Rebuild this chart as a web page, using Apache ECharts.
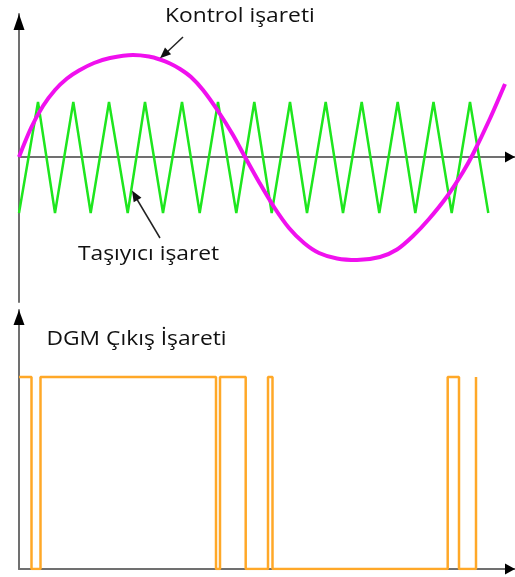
<!DOCTYPE html>
<html><head><meta charset="utf-8">
<script src="https://cdn.jsdelivr.net/npm/echarts@6/dist/echarts.min.js"></script>
<style>html,body{margin:0;padding:0;background:#fff}#c{width:515px;height:577px}</style>
</head><body><div id="c"></div>
<script>
// Control (sine-like) signal (x: time units, y: amplitude units)
const controlX = [0, 12, 24, 36, 48, 60, 75, 91, 114, 130, 141, 151, 161, 172, 184, 199, 214, 226, 240, 255, 270, 285, 300, 318, 338, 361, 378, 394, 410, 428, 444, 454, 471, 486];
const controlY = [0, 29, 51, 67, 78.5, 86.5, 94, 99, 102, 100.5, 97.5, 93.5, 88, 80, 67, 46, 22, 0, -25, -50, -71, -86, -96, -101.5, -103, -100, -92.5, -79, -62, -39.5, -15, 3, 38.5, 73];
// Carrier (triangle) signal vertices
const carrierX = [0, 19, 36, 54.3, 71.7, 90, 108.7, 126, 144, 163, 180.7, 199, 217.3, 235.3, 252.7, 271, 288, 306.7, 324, 342.7, 360.3, 378.7, 396.3, 414.5, 432.7, 451, 469.3];
const carrierY = [-56, 55, -56, 55, -56, 55, -56, 55, -56, 55, -56, 55, -56, 55, -56, 55, -56, 55, -56, 55, -56, 55, -56, 55, -56, 55, -56];
// PWM output (0 = low, 1 = high)
const pwmX = [0, 12.5, 12.5, 21.5, 21.5, 197, 197, 201, 201, 226.7, 226.7, 249, 249, 253.5, 253.5, 428.7, 428.7, 440, 440, 457, 457];
const pwmY = [1, 1, 0, 0, 1, 1, 0, 0, 1, 1, 0, 0, 1, 1, 0, 0, 1, 1, 0, 0, 1];
// Texts
const controlLabel = 'Kontrol işareti';
const carrierLabel = 'Taşıyıcı işaret';
const pwmLabel = 'DGM Çıkış İşareti';

const zip = (xs, ys) => xs.map((x, i) => [x, ys[i]]);
const FONT = '"Open Sans", "Noto Sans", sans-serif';
const axisGray = '#707070';

const chart = echarts.init(document.getElementById('c'), null, {renderer: 'canvas'});

function arrowHead(x1, y1, x2, y2, len, half) {
  const dx = x2 - x1, dy = y2 - y1, d = Math.hypot(dx, dy);
  const ux = dx / d, uy = dy / d;
  const bx = x2 - ux * len, by = y2 - uy * len;
  return [[x2, y2], [bx - uy * half, by + ux * half], [bx + uy * half, by - ux * half]];
}

const baseAxis = {
  axisTick: {show: false}, axisLabel: {show: false}, splitLine: {show: false}
};

function label(text, x, y) {
  return {type: 'text', x: x, y: y, scaleX: 1.14, scaleY: 1,
    style: {text: text, font: '20px ' + FONT, fill: '#111', verticalAlign: 'middle', align: 'left'}, z: 10};
}

chart.setOption({
  animation: false,
  backgroundColor: '#fff',
  grid: [
    {left: 19, right: 0, top: 14, height: 288, containLabel: false},
    {left: 19, right: 0, top: 310, height: 259, containLabel: false}
  ],
  xAxis: [
    Object.assign({type: 'value', gridIndex: 0, min: 0, max: 496,
      axisLine: {show: true, onZero: true, lineStyle: {color: axisGray, width: 2}}}, baseAxis),
    Object.assign({type: 'value', gridIndex: 1, min: 0, max: 496,
      axisLine: {show: true, onZero: true, lineStyle: {color: axisGray, width: 2}}}, baseAxis)
  ],
  yAxis: [
    Object.assign({type: 'value', gridIndex: 0, min: -145, max: 143,
      axisLine: {show: true, onZero: false, lineStyle: {color: axisGray, width: 2}}}, baseAxis),
    Object.assign({type: 'value', gridIndex: 1, min: 0, max: 1.349,
      axisLine: {show: true, onZero: false, lineStyle: {color: axisGray, width: 2}}}, baseAxis)
  ],
  series: [
    {type: 'line', xAxisIndex: 0, yAxisIndex: 0, data: zip(carrierX, carrierY), showSymbol: false, symbol: 'none',
      lineStyle: {color: '#1ee61e', width: 2.5}, z: 3},
    {type: 'line', xAxisIndex: 0, yAxisIndex: 0, data: zip(controlX, controlY), showSymbol: false, symbol: 'none',
      smooth: 0.3, lineStyle: {color: '#f010ee', width: 4}, z: 4},
    {type: 'line', xAxisIndex: 1, yAxisIndex: 1, data: zip(pwmX, pwmY), showSymbol: false, symbol: 'none',
      lineStyle: {color: '#ffa828', width: 2.5}, z: 3}
  ],
  graphic: [
    // axis arrowheads
    {type: 'polygon', shape: {points: [[19, 14], [13.5, 30], [24.5, 30]]}, style: {fill: '#000'}, z: 10},
    {type: 'polygon', shape: {points: [[515, 157], [505, 151.5], [505, 162.5]]}, style: {fill: '#000'}, z: 10},
    {type: 'polygon', shape: {points: [[19, 310], [13.5, 325], [24.5, 325]]}, style: {fill: '#000'}, z: 10},
    {type: 'polygon', shape: {points: [[515, 569], [505, 563.5], [505, 574.5]]}, style: {fill: '#000'}, z: 10},
    // annotation arrows
    {type: 'line', shape: {x1: 183, y1: 37, x2: 165, y2: 54}, style: {stroke: '#222', lineWidth: 1.5}, z: 10},
    {type: 'polygon', shape: {points: arrowHead(183, 37, 160, 58.3, 11, 4.5)}, style: {fill: '#111'}, z: 10},
    {type: 'line', shape: {x1: 160, y1: 238, x2: 135, y2: 196}, style: {stroke: '#222', lineWidth: 1.5}, z: 10},
    {type: 'polygon', shape: {points: arrowHead(160, 238, 132, 190.5, 11, 4.5)}, style: {fill: '#111'}, z: 10},
    // texts
    label(controlLabel, 165, 16.5),
    label(carrierLabel, 78, 254.5),
    label(pwmLabel, 46.5, 339)
  ]
});
</script>
</body></html>
